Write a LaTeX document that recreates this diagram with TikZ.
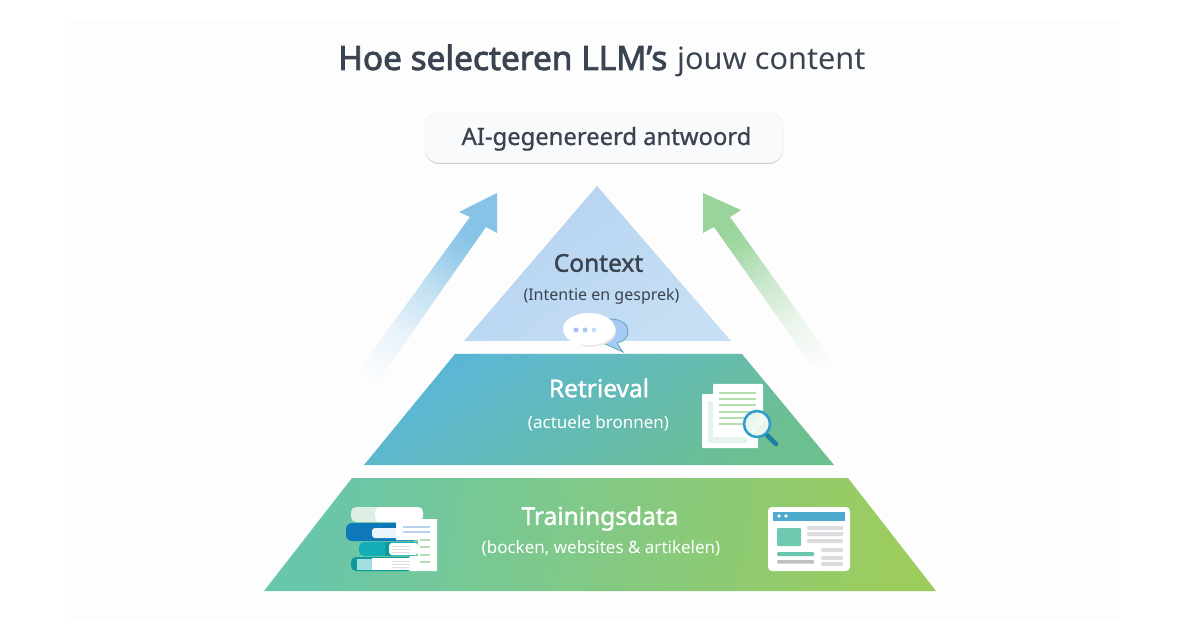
\documentclass[tikz,border=0pt]{standalone}
\usepackage{fontspec}
\setmainfont{Noto Sans}
\newfontfamily\heavyfont{Noto Sans}[FakeBold=2.4]
\newfontfamily\semifont{Noto Sans}[FakeBold=1.5]
\newfontfamily\midfont{Noto Sans}[FakeBold=0.9]
\definecolor{inkdark}{HTML}{3A4350}
\definecolor{panelbg}{HTML}{FDFDFE}
\definecolor{boxfill}{HTML}{F9FAFC}
\definecolor{boxline}{HTML}{E8EAEE}
\definecolor{arrowblue}{HTML}{86C3E6}
\definecolor{arrowgreen}{HTML}{9AD49C}
\definecolor{ctxa}{HTML}{B5D2F0}
\definecolor{ctxb}{HTML}{C6DFF4}
\definecolor{reta}{HTML}{5AB6D8}
\definecolor{retb}{HTML}{6CBF8F}
\definecolor{traa}{HTML}{68C6AC}
\definecolor{trab}{HTML}{9CCC5E}
\definecolor{bookblue}{HTML}{0E78B8}
\definecolor{bookcyan}{HTML}{13AEB8}
\definecolor{bookteal}{HTML}{0F9A9A}
\definecolor{linegreen}{HTML}{B4E0B0}
\definecolor{linegray}{HTML}{DADCDF}
\definecolor{lensring}{HTML}{2E9CC8}
\definecolor{lenshandle}{HTML}{1C7D9E}
\definecolor{bubbleback}{HTML}{A6CBF3}
\pgfdeclareverticalshading{bluefade}{100bp}{color(0bp)=(panelbg); color(23bp)=(panelbg); color(39bp)=(arrowblue!18!panelbg); color(54bp)=(arrowblue!52!panelbg); color(66bp)=(arrowblue!90!panelbg); color(72bp)=(arrowblue); color(100bp)=(arrowblue)}
\pgfdeclareverticalshading{greenfade}{100bp}{color(0bp)=(panelbg); color(23bp)=(panelbg); color(39bp)=(arrowgreen!18!panelbg); color(54bp)=(arrowgreen!52!panelbg); color(66bp)=(arrowgreen!90!panelbg); color(72bp)=(arrowgreen); color(100bp)=(arrowgreen)}
\tikzset{
  titletext/.style={text=inkdark, inner sep=0pt, anchor=base west},
  layername/.style={font=\semifont\fontsize{24.5}{28}\selectfont, inner sep=0pt},
  layernote/.style={font=\fontsize{17}{20}\selectfont, inner sep=0pt},
  gbar/.style={fill=linegray, rounded corners=1pt},
}
\begin{document}
\begin{tikzpicture}[x=1pt,y=-1pt]
\useasboundingbox (0,0) rectangle (1200,628);
\fill[white] (0,0) rectangle (1200,628);
\fill[panelbg] (70,20) rectangle (1120,620);
% title
\node[titletext, font=\heavyfont\fontsize{33.4}{36}\selectfont] (titlebold) at (338,70) {Hoe selecteren LLM’s};
\node[titletext, font=\fontsize{30.7}{36}\selectfont] (titlelight) at (677,70) {jouw content};
% answer box
\fill[boxline!70!gray, rounded corners=14pt] (425,114.5) rectangle (783,164);
\draw[boxline, fill=boxfill, rounded corners=14pt] (425,113) rectangle (783,163);
\node[font=\midfont\fontsize{23.8}{28}\selectfont, text=inkdark, inner sep=0pt, anchor=base] (answer) at (606.5,145) {AI-gegenereerd antwoord};
% side arrows
\path[shading=bluefade, shading angle=-35]
  (497,193) -- (497,233) -- (486,227) -- (365,400) -- (344,390) -- (470,217) -- (459,212) -- cycle;
\path[shading=greenfade, shading angle=35]
  (703,193) -- (741,210) -- (730,217) -- (843,375) -- (829,390) -- (714,227) -- (703,233) -- cycle;
% pyramid
\path[left color=ctxa, right color=ctxb, shading angle=35] (597,186) -- (731,341) -- (464,341) -- cycle;
\path[left color=reta, right color=retb, shading angle=35] (455,354) -- (742,354) -- (834,465) -- (364,465) -- cycle;
\path[left color=traa, right color=trab, shading angle=80] (352,478) -- (848,478) -- (936,591) -- (264,591) -- cycle;
% layer text
\node[layername, text=inkdark] (context) at (598.5,263) {Context};
\node[layernote, text=inkdark, font=\fontsize{16}{20}\selectfont] (contextnote) at (601.5,296) {(Intentie en gesprek)};
\node[layername, text=white] (retrieval) at (599,388) {Retrieval};
\node[layernote, text=white] (retrievalnote) at (598.5,423) {(actuele bronnen)};
\node[layername, text=white] (training) at (600,518.5) {Trainingsdata};
\node[layernote, text=white] (trainingnote) at (601,548) {(bocken, websites \& artikelen)};
% speech bubbles
\draw[fill=bubbleback, draw=lenshandle!70!white, line width=0.8pt] (610,319) .. controls (622,319) and (628,325) .. (628,331) .. controls (628,337) and (624,342) .. (617,343) -- (623,352) -- (605,344) -- cycle;
\fill[black!8] (590,331) ellipse (26 and 16);
\fill[white] (589,329) ellipse (26 and 16);
\fill[white] (571,340) -- (582,344) -- (570,352) -- cycle;
\fill[bubbleback!80!blue!70!white] (576,330) circle (2.6);
\fill[bubbleback] (585,330) circle (2.5);
\fill[ctxb] (594,330) circle (2.4);
% document icon
\fill[white, rounded corners=1pt] (702,394) rectangle (758,448);
\fill[retb!18!white] (708,401) rectangle (747,443);
\fill[white, rounded corners=1pt] (713,384) rectangle (763,437);
\foreach \liney in {393,399,405,412,418,424}
  \fill[linegreen] (719,\liney-1) rectangle (756,\liney+1);
\draw[lenshandle, line width=4.5pt, line cap=round] (767,435) -- (776,444);
\draw[lensring, fill=retb!15!white, line width=2.5pt] (757,424) circle (13);
\fill[white, opacity=.45] (749,430) -- (761,415) -- (766,419) -- (754,434) -- cycle;
% books icon
\fill[black!8!retb!22!white, rounded corners=5pt] (351,507) rectangle (400,522);
\fill[white, rounded corners=5pt] (375,507) -- (423,507) -- (423,522) -- (375,522) -- cycle;
\fill[bookblue, rounded corners=6pt] (346,523) rectangle (418,541);
\fill[white!75!ctxa, rounded corners=3pt] (372,528) rectangle (400,538);
\fill[bookcyan, rounded corners=5pt] (359,542) rectangle (418,556);
\fill[bookteal] (385,542) rectangle (390,556);
\fill[white, rounded corners=3pt] (389,543) rectangle (418,555);
\fill[bookteal, rounded corners=5pt] (351,557) rectangle (412,571);
\fill[white!60!bookcyan] (357,559) rectangle (372,570);
\fill[white] (372,558) rectangle (412,570);
\foreach \liney in {546,549,552,561,564,567}
  \fill[black!12] (392,\liney) rectangle (410,\liney+0.6);
\fill[white] (396,519) -- (437,519) -- (437,571) -- (410,571) -- (410,556) -- (418,556) -- (418,540) -- (396,540) -- cycle;
\foreach \liney in {527,532}
  \fill[ctxa] (403,\liney-0.8) rectangle (430,\liney+0.8);
\foreach \liney in {540,547,555,562}
  \fill[linegreen] (420,\liney-0.7) rectangle (430,\liney+0.7);
% website icon
\fill[white, rounded corners=4pt] (768,507) rectangle (850,571);
\fill[lensring!85!white] (773,512) rectangle (845,521);
\fill[white] (779,516) circle (1.8);
\fill[white] (786,516) circle (1.8);
\fill[traa!95!white, rounded corners=1pt] (777,528) rectangle (801,546);
\foreach \liney in {526,532,539}
  \fill[gbar] (807,\liney) rectangle (843,\liney+4);
\foreach \liney in {548,556,562}
  \fill[gbar] (821,\liney) rectangle (843,\liney+4);
\fill[traa, rounded corners=1pt] (777,552) rectangle (814,556);
\fill[black!25, rounded corners=1pt] (777,560) rectangle (814,563.5);
\end{tikzpicture}
\end{document}
